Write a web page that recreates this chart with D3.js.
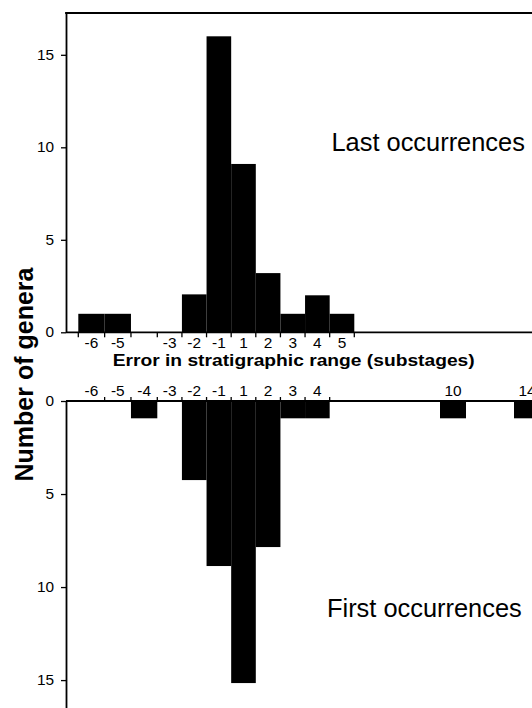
<!DOCTYPE html>
<html>
<head>
<meta charset="utf-8">
<script src="https://cdn.jsdelivr.net/npm/d3@7"></script>
<style>
  html, body { margin: 0; padding: 0; background: #fff; }
  svg { display: block; font-family: "Liberation Sans", Arial, Helvetica, sans-serif; }
</style>
</head>
<body>
<svg id="chart" width="532" height="708"></svg>
<script>
// ---- data ----
const lastBins = [-6, -5, -2, -1, 1, 2, 3, 4, 5];
const lastCounts = [1, 1, 2.05, 16, 9.1, 3.2, 1, 2, 1];
const lastLabelBins = [-6, -5, -3, -2, -1, 1, 2, 3, 4, 5];

const firstBins = [-4, -2, -1, 1, 2, 3, 4, 10, 14];
const firstCounts = [0.93, 4.25, 8.87, 15.16, 7.85, 0.93, 0.93, 0.93, 0.93];
const firstLabelBins = [-6, -5, -4, -3, -2, -1, 1, 2, 3, 4, 10, 14];

const yTickValues = [0, 5, 10, 15];
const lastTitle = "Last occurrences";
const firstTitle = "First occurrences";
const xTitle = "Error in stratigraphic range (substages)";
const yTitle = "Number of genera";

// ---- layout ----
const W = 532, H = 708;
const svg = d3.select("#chart");
const axisX = 66;
const tickFont = 14;
const stretchK = 1.1;

// bin index (there is no 0 bin)
const idx = v => (v < 0 ? v + 6 : v + 5);
// left-edge position of bin index (axis is compressed beyond 5)
const x = d3.scaleLinear().domain([0, 3, 11, 15, 19]).range([78.3, 157.3, 354.3, 440, 514]);
const binW = i => (i < 11 ? x(i + 1) - x(i) : 26);

const yTop = d3.scaleLinear().domain([0, 17.26]).range([332.3, 13]);
const yBot = d3.scaleLinear().domain([0, 16.5]).range([401, 708]);

const lw = 1.8;

function stretch(sel, k) {
  sel.each(function () {
    const w = this.getComputedTextLength();
    d3.select(this).attr("textLength", w * k).attr("lengthAdjust", "spacingAndGlyphs");
  });
}

// ---------- Top panel (Last occurrences) ----------
const gTop = svg.append("g");
gTop.selectAll("rect").data(lastBins.map((b, i) => ({ b, v: lastCounts[i] })))
  .enter().append("rect")
  .attr("x", d => x(idx(d.b)))
  .attr("width", d => binW(idx(d.b)))
  .attr("y", d => yTop(d.v))
  .attr("height", d => yTop(0) - yTop(d.v))
  .attr("fill", "#000");

gTop.append("line")
  .attr("x1", axisX - 0.9).attr("x2", W)
  .attr("y1", yTop(17.26)).attr("y2", yTop(17.26))
  .attr("stroke", "#000").attr("stroke-width", lw);
gTop.append("line")
  .attr("x1", axisX).attr("x2", W)
  .attr("y1", yTop(0)).attr("y2", yTop(0))
  .attr("stroke", "#000").attr("stroke-width", lw);

const yAxisTop = gTop.append("g")
  .attr("transform", `translate(${axisX},0)`)
  .call(d3.axisLeft(yTop).tickValues(yTickValues).tickSize(5).tickPadding(7).tickSizeOuter(0));
yAxisTop.select(".domain").attr("stroke-width", lw);

const topEdges = d3.range(0, 12);
gTop.selectAll("line.xt").data(topEdges).enter().append("line")
  .attr("class", "xt")
  .attr("x1", d => x(d)).attr("x2", d => x(d))
  .attr("y1", yTop(0)).attr("y2", yTop(0) + 5)
  .attr("stroke", "#000").attr("stroke-width", 1.3);
const topLabels = gTop.selectAll("text.xl").data(lastLabelBins).enter().append("text")
  .attr("class", "xl")
  .attr("x", d => x(idx(d)) + binW(idx(d)) / 2)
  .attr("y", 347.5)
  .attr("text-anchor", "middle")
  .attr("font-size", tickFont)
  .text(d => String(d));
stretch(topLabels, stretchK);

gTop.append("text")
  .attr("x", 331.5).attr("y", 151)
  .attr("font-size", 25.4)
  .text(lastTitle);

// ---------- Bottom panel (First occurrences) ----------
const gBot = svg.append("g");
gBot.selectAll("rect").data(firstBins.map((b, i) => ({ b, v: firstCounts[i] })))
  .enter().append("rect")
  .attr("x", d => x(idx(d.b)))
  .attr("width", d => binW(idx(d.b)))
  .attr("y", yBot(0))
  .attr("height", d => yBot(d.v) - yBot(0))
  .attr("fill", "#000");

gBot.append("line")
  .attr("x1", axisX).attr("x2", W)
  .attr("y1", yBot(0)).attr("y2", yBot(0))
  .attr("stroke", "#000").attr("stroke-width", lw);

const yAxisBot = gBot.append("g")
  .attr("transform", `translate(${axisX},0)`)
  .call(d3.axisLeft(yBot).tickValues(yTickValues).tickSize(5).tickPadding(7).tickSizeOuter(0));
yAxisBot.select(".domain").attr("stroke-width", lw);

const botEdges = d3.range(1, 11);
gBot.selectAll("line.xt").data(botEdges).enter().append("line")
  .attr("class", "xt")
  .attr("x1", d => x(d)).attr("x2", d => x(d))
  .attr("y1", yBot(0)).attr("y2", yBot(0) - 4)
  .attr("stroke", "#000").attr("stroke-width", 1.3);
const botLabels = gBot.selectAll("text.xl").data(firstLabelBins).enter().append("text")
  .attr("class", "xl")
  .attr("x", d => x(idx(d)) + binW(idx(d)) / 2)
  .attr("y", 395.7)
  .attr("text-anchor", "middle")
  .attr("font-size", tickFont)
  .text(d => String(d));
stretch(botLabels, stretchK);

gBot.append("text")
  .attr("x", 327).attr("y", 616.7)
  .attr("font-size", 25.4)
  .text(firstTitle);

// axis tick text styling
svg.selectAll(".tick text")
  .attr("font-size", tickFont).attr("fill", "#000")
  .attr("font-family", "Liberation Sans, Arial, sans-serif");
stretch(svg.selectAll(".tick text"), stretchK);
svg.selectAll(".tick line").attr("stroke-width", 1.3);

// ---------- Axis titles ----------
svg.append("text")
  .attr("x", 112.7).attr("y", 365.7)
  .attr("font-size", 16.5)
  .attr("font-weight", "bold")
  .attr("textLength", 362)
  .attr("lengthAdjust", "spacingAndGlyphs")
  .text(xTitle);

svg.append("text")
  .attr("transform", "translate(33,374.5) rotate(-90)")
  .attr("text-anchor", "middle")
  .attr("font-size", 25)
  .attr("font-weight", "bold")
  .text(yTitle);
</script>
</body>
</html>
